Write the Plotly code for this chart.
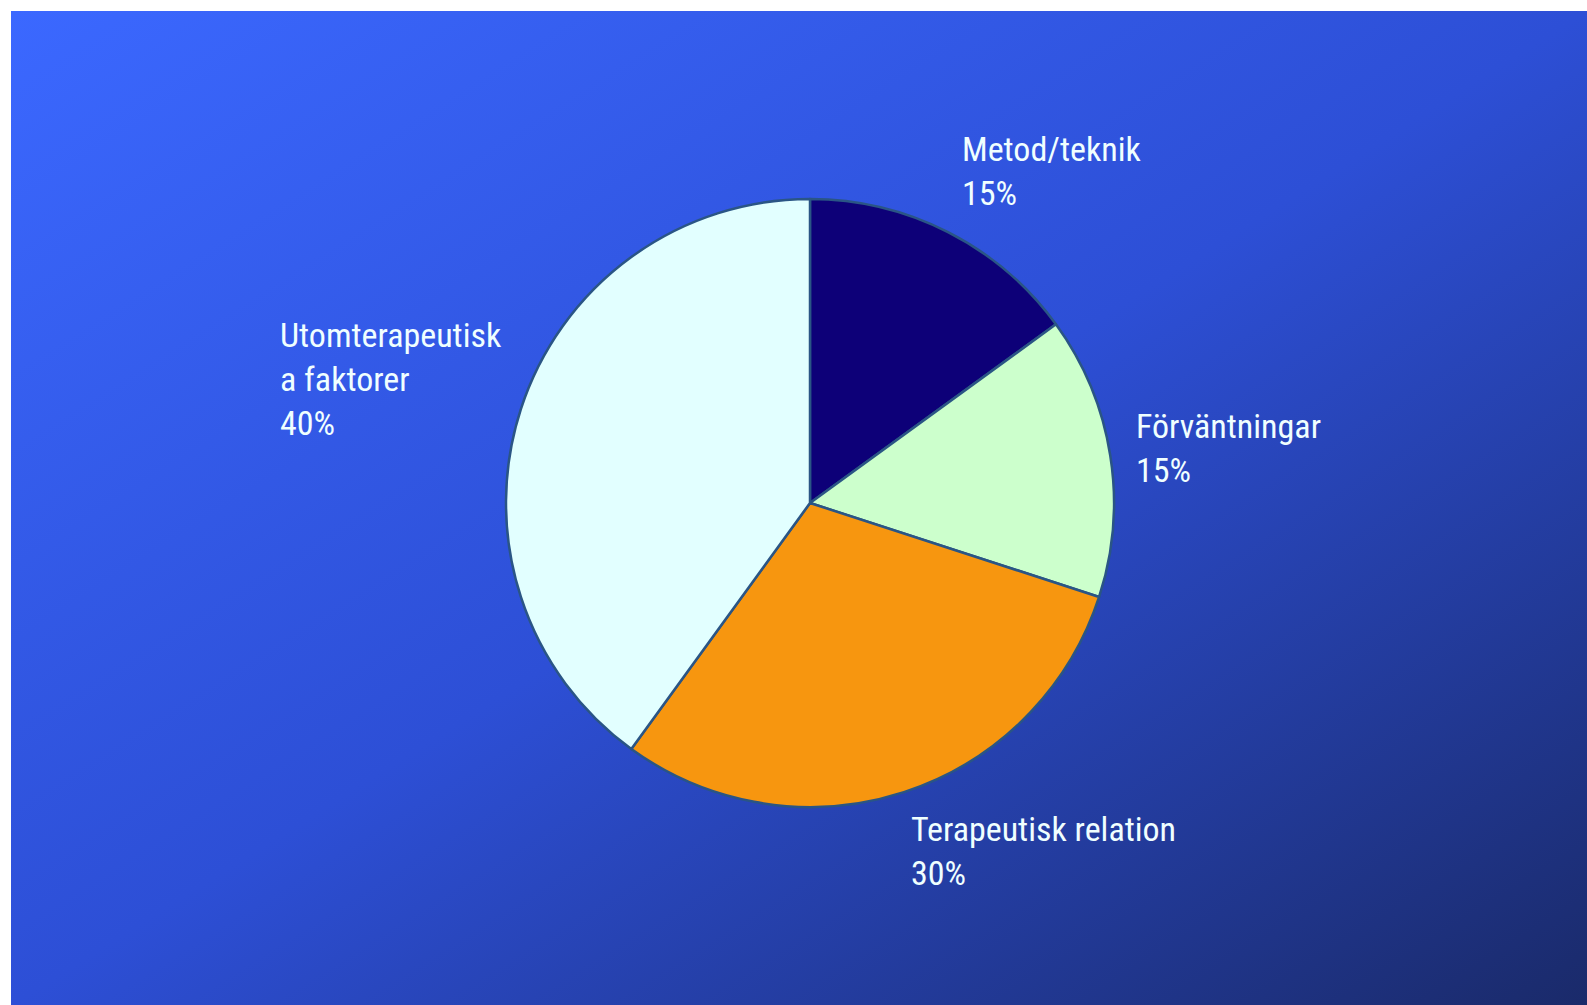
import base64
import plotly.graph_objects as go

labels = ["Metod/teknik", "Förväntningar", "Terapeutisk relation", "Utomterapeutiska faktorer"]
label_text = ["Metod/teknik", "Förväntningar", "Terapeutisk relation", "Utomterapeutisk<br>a faktorer"]
values = [15, 15, 30, 40]
colors = ["#0d0078", "#ccffcc", "#f7960f", "#e2ffff"]

W, H = 1587, 1005
L, T, R, B = 11, 11, 1587, 1005
PW, PH = R - L, B - T

def fx(px):
    return (px - L) / PW

def fy(py):
    return 1 - (py - T) / PH

svg = (
    '<svg xmlns="http://www.w3.org/2000/svg" width="1576" height="994" viewBox="0 0 1576 994" preserveAspectRatio="none">'
    '<defs><linearGradient id="g" x1="0" y1="0" x2="1" y2="1">'
    '<stop offset="0" stop-color="#3b68ff"/>'
    '<stop offset="0.5" stop-color="#2d4fd6"/>'
    '<stop offset="1" stop-color="#1a2a6a"/>'
    '</linearGradient></defs>'
    '<rect width="1576" height="994" fill="url(#g)"/></svg>'
)
src = "data:image/svg+xml;base64," + base64.b64encode(svg.encode()).decode()

cx, cy, rad = 810, 503, 304
fig = go.Figure(go.Pie(
    labels=labels,
    values=values,
    sort=False,
    direction="clockwise",
    rotation=0,
    marker=dict(colors=colors, line=dict(color="#2a5585", width=2.5)),
    textinfo="none",
    hoverinfo="label+percent",
    showlegend=False,
    domain=dict(x=[fx(cx - rad), fx(cx + rad)], y=[fy(cy + rad), fy(cy - rad)]),
))

label_pos = [(960, 171), (1134, 448), (909, 851), (278, 379)]
font = dict(family="Liberation Sans Narrow, Arial Narrow, Roboto Condensed, Liberation Sans, sans-serif",
            size=34, color="#f0ffff")
for txt, v, (px, py) in zip(label_text, values, label_pos):
    fig.add_annotation(x=fx(px), y=fy(py), xref="paper", yref="paper",
                       text=f"{txt}<br>{v}%", showarrow=False,
                       xanchor="left", yanchor="middle", align="left", font=font)

fig.update_layout(
    width=W, height=H,
    margin=dict(l=L, r=W - R, t=T, b=H - B),
    paper_bgcolor="white",
    plot_bgcolor="rgba(0,0,0,0)",
    xaxis=dict(visible=False), yaxis=dict(visible=False),
    images=[dict(source=src, xref="paper", yref="paper", x=0, y=1, sizex=1, sizey=1,
                 xanchor="left", yanchor="top", sizing="stretch", layer="below")],
)
fig.write_html(
    "out.html",
    config={"displayModeBar": False},
    post_script="document.body.style.margin='0';document.documentElement.style.overflow='hidden';",
)
